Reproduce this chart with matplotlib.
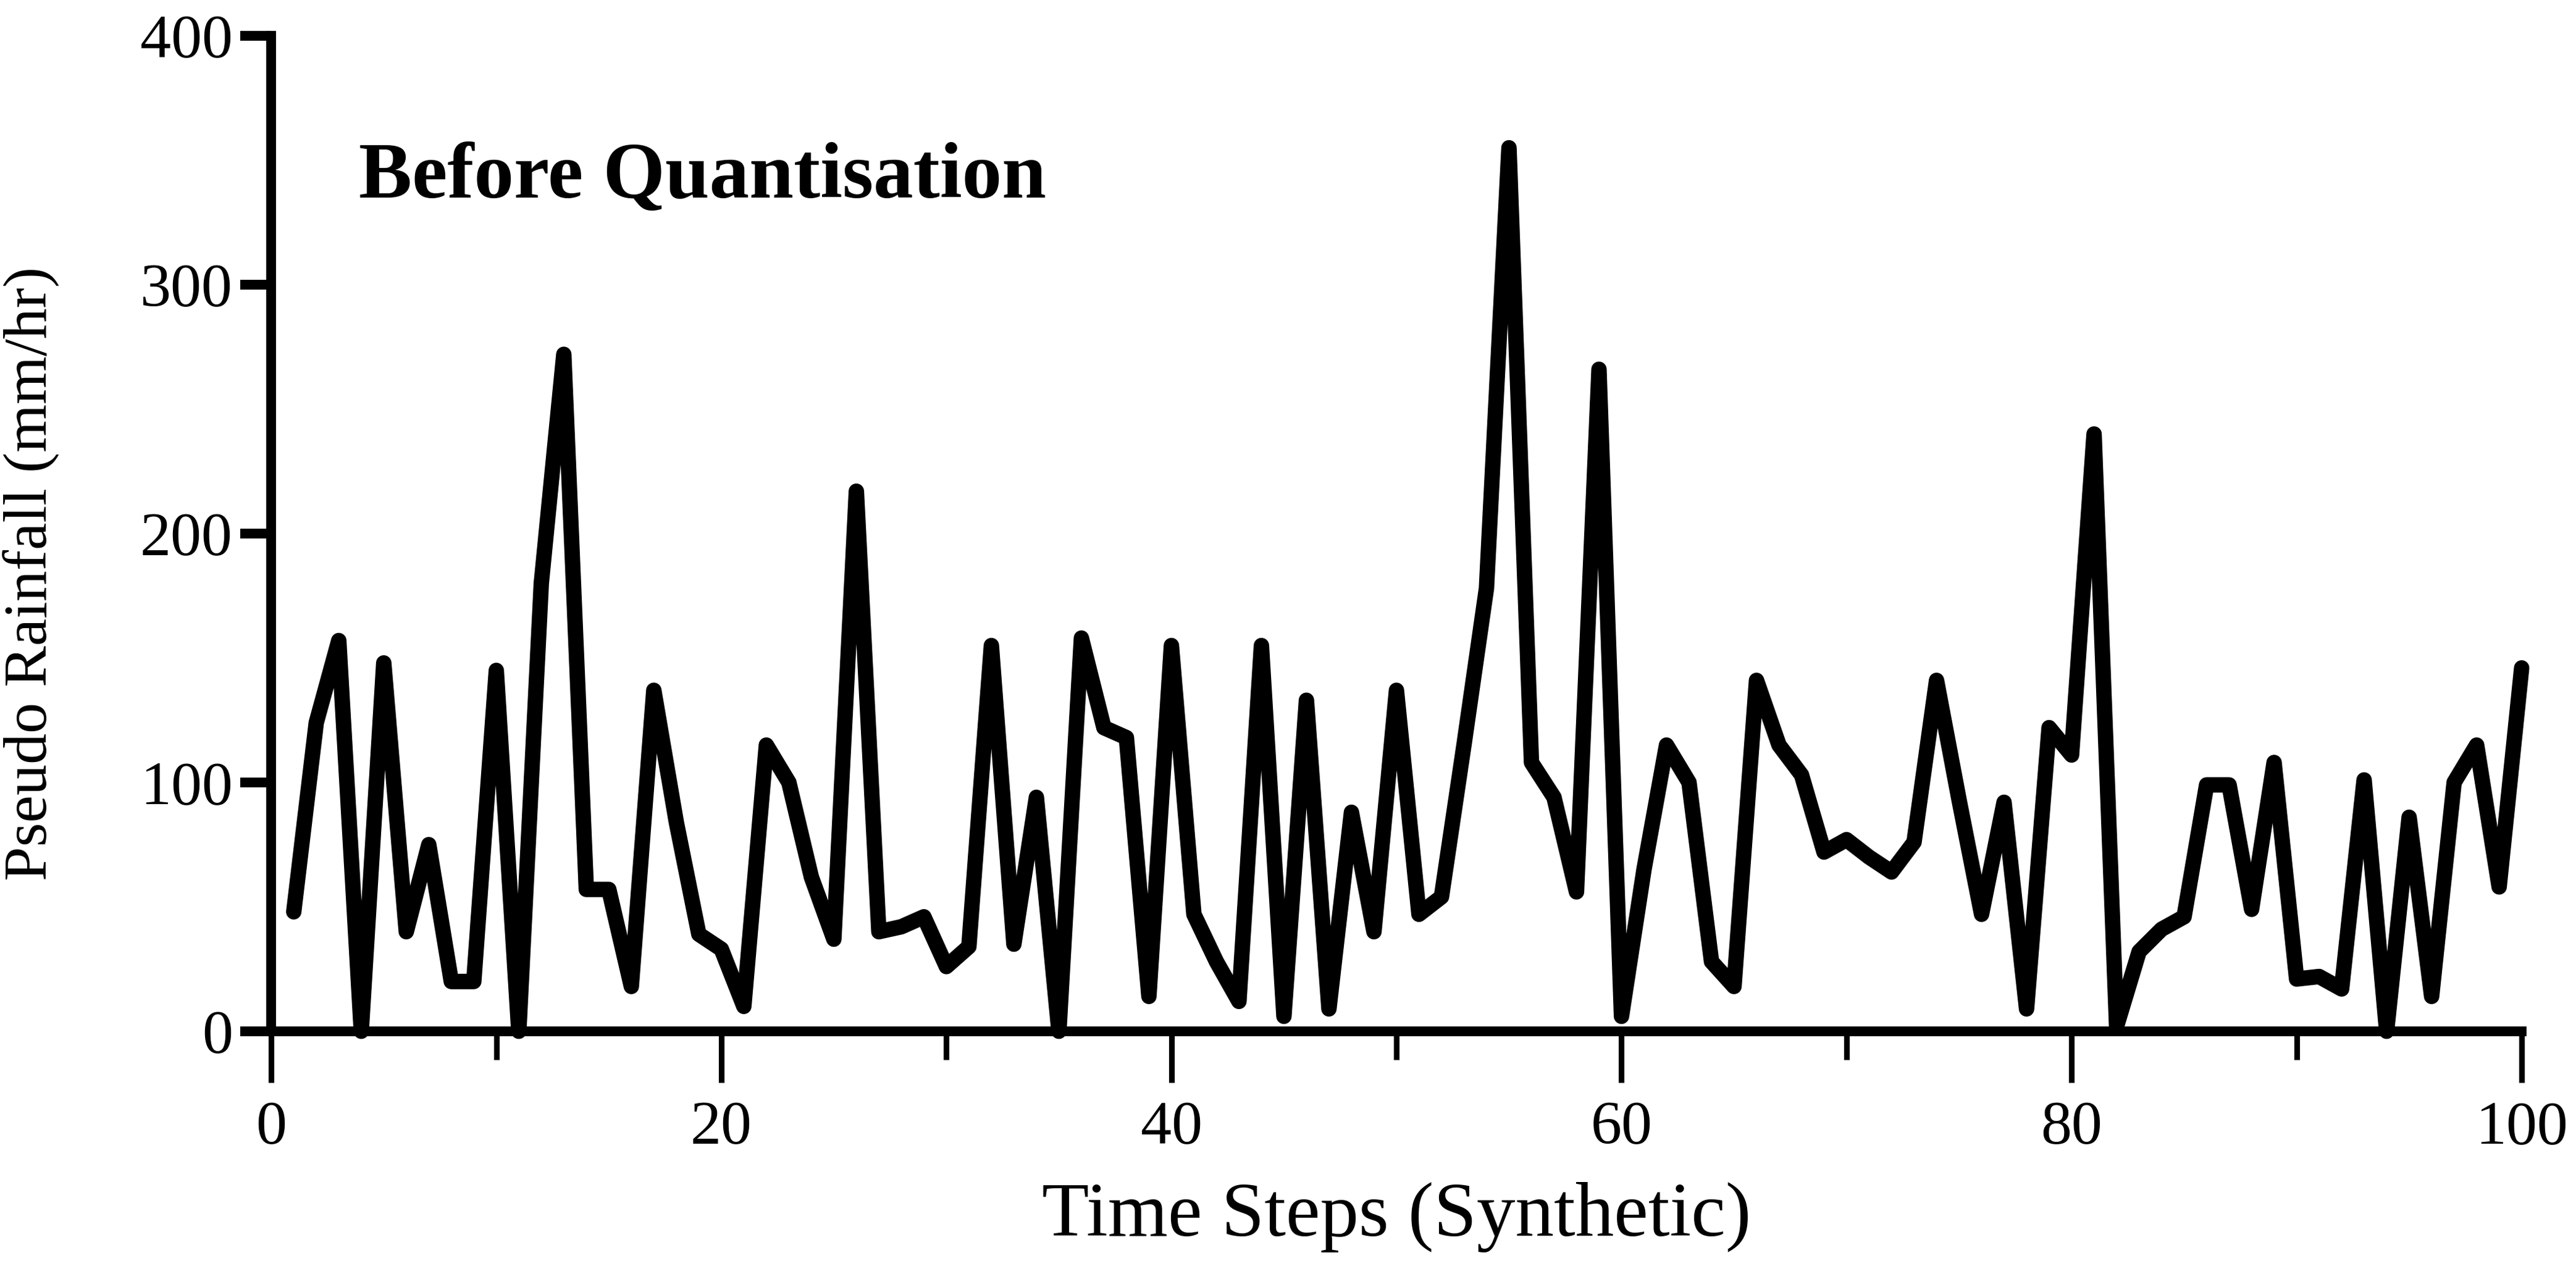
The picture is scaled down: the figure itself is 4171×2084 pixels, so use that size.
import numpy as np
import matplotlib.pyplot as plt
from matplotlib.ticker import MultipleLocator

# pseudo rainfall series (mm/hr), one value per time step
steps = np.arange(1, 101)
rainfall = [48, 124, 157, 0, 148, 40, 75, 20, 20, 145,
            0, 180, 272, 57, 57, 18, 137, 84, 39, 33,
            10, 115, 100, 62, 37, 217, 40, 42, 46, 26,
            34, 155, 35, 94, 0, 158, 122, 118, 14, 155,
            47, 28, 12, 155, 6, 133, 9, 88, 40, 137,
            47, 54, 115, 178, 355, 108, 94, 56, 266, 6,
            65, 115, 100, 28, 18, 141, 115, 103, 72, 77,
            70, 64, 76, 141, 93, 47, 92, 9, 122, 111,
            240, 2, 32, 41, 46, 99, 99, 49, 108, 21,
            22, 17, 101, 0, 86, 14, 100, 115, 58, 146]

x_ticks = [0, 20, 40, 60, 80, 100]
y_ticks = [0, 100, 200, 300, 400]

plt.rcParams['font.family'] = ['Liberation Serif', 'DejaVu Serif']

fig = plt.figure(figsize=(4171 / 300, 2084 / 300), dpi=300)
ax = fig.add_axes([0.1053, 0.1987, 0.8736, 0.7735])

ax.plot(steps, rainfall, color='black', lw=6,
        solid_joinstyle='round', solid_capstyle='round', clip_on=False)

ax.set_xlim(0, 100)
ax.set_ylim(0, 400)
ax.set_xticks(x_ticks)
ax.set_yticks(y_ticks)
ax.xaxis.set_minor_locator(MultipleLocator(10))

for side in ['top', 'right']:
    ax.spines[side].set_visible(False)
for side in ['left', 'bottom']:
    ax.spines[side].set_linewidth(3.8)

ax.tick_params(axis='x', which='major', direction='out', length=20, width=2.2,
               labelsize=24, pad=7)
ax.tick_params(axis='x', which='minor', direction='out', length=11, width=2.2)
ax.tick_params(axis='y', which='major', direction='out', length=12, width=3.8,
               labelsize=24, pad=3)

ax.set_xlabel('Time Steps (Synthetic)', fontsize=30, labelpad=10)
ax.set_ylabel('Pseudo Rainfall (mm/hr)', fontsize=24)
ax.yaxis.set_label_coords(-0.094, 0.46)

ax.text(3.9, 335, 'Before Quantisation', fontsize=31, fontweight='bold')

fig.savefig('out.png', dpi=300, facecolor='white')
